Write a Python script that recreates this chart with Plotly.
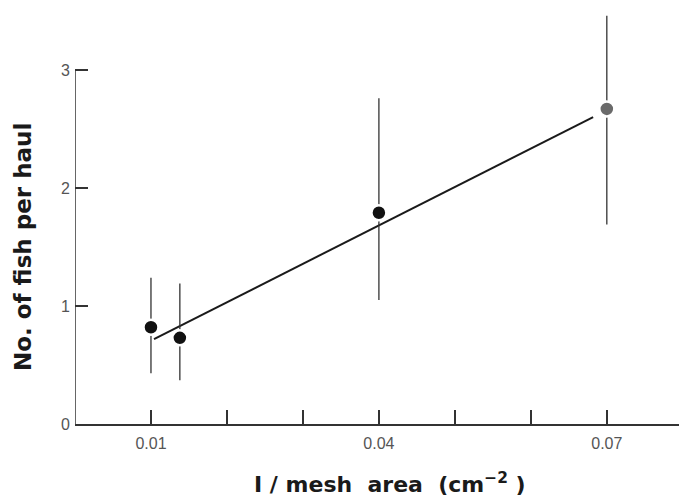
import plotly.graph_objects as go

# Data
x_vals = [0.01, 0.0138, 0.04, 0.07]
y_vals = [0.82, 0.73, 1.79, 2.67]
err_hi = [1.24, 1.19, 2.76, 3.46]
err_lo = [0.43, 0.37, 1.05, 1.69]
marker_colors = ["#111111", "#111111", "#111111", "#6a6a6a"]

fit_x = [0.0104, 0.0682]
fit_y = [0.72, 2.60]

x_tickvals = [0.01, 0.02, 0.03, 0.04, 0.05, 0.06, 0.07]
x_ticktext = ["0.01", "", "", "0.04", "", "", "0.07"]
y_tickvals = [0, 1, 2, 3]
y_ticktext = ["0", "1", "2", "3"]

x_title = "<b>I / mesh  area  (cm<sup>−2</sup> )</b>"
y_title = "<b>No. of fish per haul</b>"

plus = [h - y for h, y in zip(err_hi, y_vals)]
minus = [y - l for y, l in zip(y_vals, err_lo)]

fig = go.Figure()

fig.add_trace(go.Scatter(
    x=fit_x, y=fit_y, mode="lines",
    line=dict(color="#1a1a1a", width=2),
    showlegend=False, hoverinfo="skip",
))

fig.add_trace(go.Scatter(
    x=x_vals, y=y_vals, mode="markers",
    marker=dict(size=15, color=marker_colors, line=dict(color="white", width=2.5)),
    error_y=dict(type="data", symmetric=False, array=plus, arrayminus=minus,
                 width=0, thickness=1.3, color="#333333"),
    showlegend=False, cliponaxis=False,
))

# y-axis line only up to 3
fig.add_shape(type="line", xref="x", yref="y", x0=0, x1=0, y0=0, y1=3,
              line=dict(color="#333333", width=1.5))

# axis titles as annotations for exact placement
fig.add_annotation(text=y_title, xref="paper", x=0, xshift=-52, xanchor="center",
                   yref="y", y=1.5, yanchor="middle", textangle=-90, showarrow=False,
                   font=dict(family="DejaVu Sans", size=23, color="#1a1a1a"))
fig.add_annotation(text=x_title, xref="x", x=0.0415, xanchor="center",
                   yref="paper", y=0, yshift=-75, yanchor="bottom", showarrow=False,
                   font=dict(family="DejaVu Sans", size=22, color="#1a1a1a"))

fig.update_layout(
    width=679, height=500,
    margin=dict(l=75, r=0, t=11, b=76),
    paper_bgcolor="white", plot_bgcolor="white",
    xaxis=dict(
        range=[0, 0.0795], showgrid=False, zeroline=False, automargin=False,
        showline=True, linecolor="#333333", linewidth=1.5,
        ticks="inside", ticklen=14, tickwidth=1.5, tickcolor="#333333",
        tickvals=x_tickvals, ticktext=x_ticktext, ticklabelstandoff=4,
        tickfont=dict(family="Liberation Sans", size=16, color="#555555"),
    ),
    yaxis=dict(
        range=[0, 3.5], showgrid=False, zeroline=False, showline=False, automargin=False,
        ticks="inside", ticklen=13, tickwidth=1.5, tickcolor="#333333",
        tickvals=y_tickvals, ticktext=y_ticktext, ticklabelstandoff=4,
        tickfont=dict(family="Liberation Sans", size=16, color="#555555"),
    ),
)

fig.write_html("out.html", config={"displayModeBar": False},
               post_script="document.body.style.margin='0';document.body.style.overflow='hidden';")
